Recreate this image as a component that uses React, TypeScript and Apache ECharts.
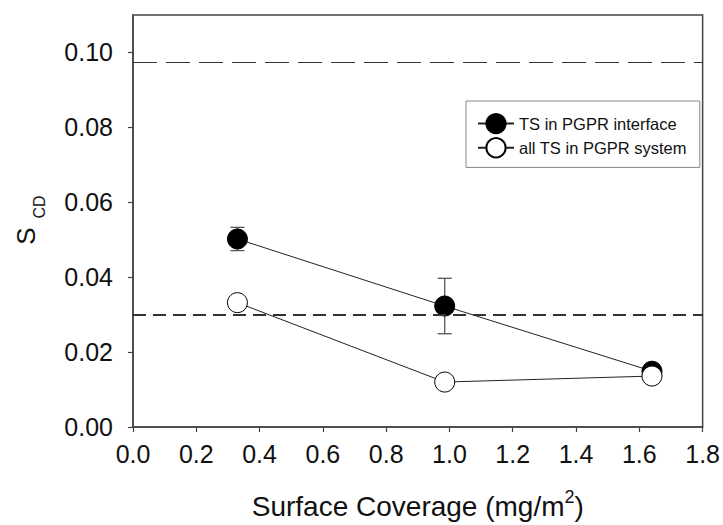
import React, { useEffect, useRef } from "react";
import * as echarts from "echarts";

const coverage = [0.33, 0.985, 1.64];
const tsInterface = [0.0502, 0.0323, 0.0149];
const tsInterfaceErr = [0.0031, 0.0074, 0.0];
const allTs = [0.0332, 0.012, 0.0136];
const refUpper = 0.0975;
const refLower = 0.03;
const yTicks = [0, 0.02, 0.04, 0.06, 0.08, 0.1];
const seriesNames = ["TS in PGPR interface", "all TS in PGPR system"];

const FONT = "'Liberation Sans', Arial, sans-serif";
const AXIS = "#444";

export default function App() {
  const ref = useRef<HTMLDivElement>(null);
  useEffect(() => {
    if (!ref.current) return;
    const chart = echarts.init(ref.current, undefined, { renderer: "svg" });
    const errData = coverage.map((x, i) => [x, tsInterface[i] - tsInterfaceErr[i], tsInterface[i] + tsInterfaceErr[i]]);
    chart.setOption({
      animation: false,
      backgroundColor: "#fff",
      textStyle: { fontFamily: FONT },
      grid: { left: 133, top: 15, right: 20, bottom: 97, show: true, borderColor: AXIS, borderWidth: 1.5, backgroundColor: "transparent" },
      xAxis: {
        type: "value",
        min: 0,
        max: 1.8,
        interval: 0.2,
        name: "{a|Surface Coverage (mg/m}{sup|2}{a|)}",
        nameLocation: "middle",
        nameGap: 61,
        nameTextStyle: {
          fontSize: 28,
          color: "#111",
          fontFamily: FONT,
          rich: {
            a: { fontSize: 28, color: "#111", fontFamily: FONT, lineHeight: 32, verticalAlign: "bottom" },
            sup: { fontSize: 18, color: "#111", fontFamily: FONT, lineHeight: 18, verticalAlign: "top" },
          },
        },
        axisLine: { lineStyle: { color: AXIS, width: 1.5 } },
        axisTick: { length: 5, lineStyle: { color: AXIS, width: 1.2 } },
        axisLabel: { fontSize: 25, color: "#111", margin: 14, formatter: (v: number) => v.toFixed(1), fontFamily: FONT },
        splitLine: { show: false },
      },
      yAxis: {
        type: "value",
        min: 0,
        max: 0.11,
        interval: 0.02,
        axisLine: { show: true, lineStyle: { color: AXIS, width: 1.5 } },
        axisTick: { show: true, length: 5, customValues: yTicks, lineStyle: { color: AXIS, width: 1.2 } },
        axisLabel: { fontSize: 25, color: "#111", margin: 20, customValues: yTicks, formatter: (v: number) => v.toFixed(2), fontFamily: FONT },
        splitLine: { show: false },
      },
      legend: {
        orient: "vertical",
        left: 466,
        top: 101,
        padding: [12, 13, 9, 11],
        itemGap: 3,
        itemWidth: 36,
        itemHeight: 24,
        borderColor: "#888",
        borderWidth: 1,
        backgroundColor: "#fff",
        textStyle: { fontSize: 16.5, color: "#111", fontFamily: FONT },
        data: seriesNames,
      },
      graphic: [
        { type: "text", x: 26, y: 236, rotation: Math.PI / 2, style: { text: "S", fontSize: 26, fill: "#111", fontFamily: FONT, align: "center", verticalAlign: "middle" } },
        { type: "text", x: 39, y: 207, rotation: Math.PI / 2, style: { text: "CD", fontSize: 16, fill: "#111", fontFamily: FONT, align: "center", verticalAlign: "middle" } },
      ],
      series: [
        {
          type: "line",
          name: "refs",
          data: [],
          silent: true,
          markLine: {
            silent: true,
            symbol: "none",
            precision: 5,
            label: { show: false },
            data: [
              { yAxis: refUpper, lineStyle: { type: [24, 9], color: "#333", width: 1.2 } },
              { yAxis: refLower, lineStyle: { type: [13, 7], color: "#333", width: 2 } },
            ],
          },
        },
        {
          type: "custom",
          name: "err",
          data: errData,
          encode: { x: 0, y: [1, 2] },
          z: 1,
          renderItem: (params: any, api: any) => {
            const x = api.value(0);
            const lo = api.coord([x, api.value(1)]);
            const hi = api.coord([x, api.value(2)]);
            const w = 7;
            const st = { stroke: "#555", lineWidth: 1.3 };
            return {
              type: "group",
              children: [
                { type: "line", shape: { x1: lo[0], y1: lo[1], x2: hi[0], y2: hi[1] }, style: st },
                { type: "line", shape: { x1: lo[0] - w, y1: lo[1], x2: lo[0] + w, y2: lo[1] }, style: st },
                { type: "line", shape: { x1: hi[0] - w, y1: hi[1], x2: hi[0] + w, y2: hi[1] }, style: st },
              ],
            };
          },
        },
        {
          type: "line",
          name: seriesNames[0],
          data: coverage.map((x, i) => [x, tsInterface[i]]),
          symbol: "circle",
          symbolSize: 20,
          z: 3,
          lineStyle: { color: "#222", width: 1 },
          itemStyle: { color: "#000", borderColor: "#000", borderWidth: 1 },
        },
        {
          type: "line",
          name: seriesNames[1],
          data: coverage.map((x, i) => [x, allTs[i]]),
          symbol: "circle",
          symbolSize: 20,
          z: 4,
          lineStyle: { color: "#222", width: 1 },
          itemStyle: { color: "#fff", borderColor: "#000", borderWidth: 1 },
        },
      ],
    });
    return () => chart.dispose();
  }, []);
  return <div ref={ref} style={{ width: 723, height: 525, position: "absolute", left: 0, top: 0 }} />;
}
